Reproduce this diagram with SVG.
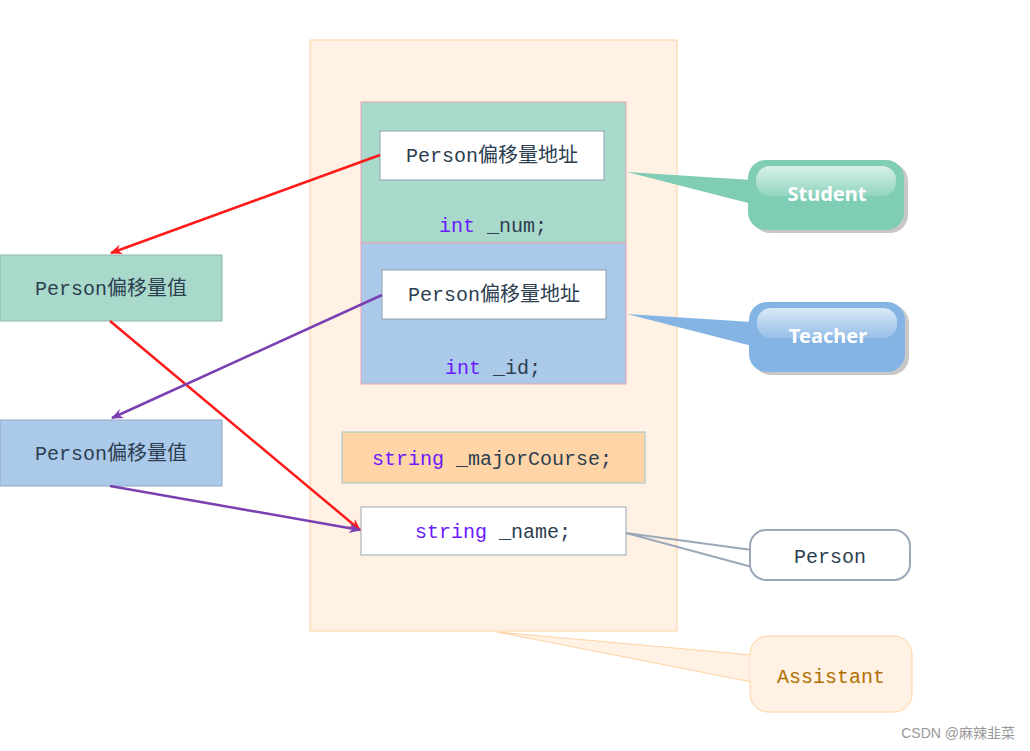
<svg xmlns="http://www.w3.org/2000/svg" width="1030" height="751" viewBox="0 0 1030 751">
<defs>
<marker id="ar" viewBox="0 0 12 10" refX="11" refY="5" markerWidth="12" markerHeight="10" markerUnits="userSpaceOnUse" orient="auto"><path d="M0,0 L12,5 L0,10 L4,5 Z" fill="#ff1a1a"/></marker>
<marker id="ap" viewBox="0 0 12 10" refX="11" refY="5" markerWidth="12" markerHeight="10" markerUnits="userSpaceOnUse" orient="auto"><path d="M0,0 L12,5 L0,10 L4,5 Z" fill="#7a3fb0"/></marker>
<linearGradient id="gl" x1="0" y1="0" x2="0" y2="1"><stop offset="0" stop-color="#fff" stop-opacity="0.7"/><stop offset="1" stop-color="#fff" stop-opacity="0.15"/></linearGradient>
</defs>
<style>
.m{font-family:"Liberation Mono","Noto Sans CJK SC",monospace;font-size:20px;fill:#2c3e50}
.k{fill:#6a1aff}
.c{font-family:"Noto Sans","Liberation Sans",sans-serif;font-size:20px;font-weight:bold;fill:#fff}
</style>
<rect width="1030" height="751" fill="#fff"/>
<g id="assistant-box"><rect x="310" y="40" width="367" height="591" fill="#fff1e4" stroke="#ffd2a0"/></g>
<g id="student"><rect x="361" y="102" width="265" height="141" fill="#a9d9cb" stroke="#e9a0b8"/>
<rect x="380" y="131" width="224" height="49" fill="#fff" stroke="#8fa0b0"/>
<text class="m" x="492" y="162" text-anchor="middle">Person偏移量地址</text>
<text class="m" x="493" y="232" text-anchor="middle"><tspan class="k">int</tspan> _num;</text></g>
<g id="teacher"><rect x="361" y="243" width="265" height="141" fill="#abc9e9" stroke="#e9a0b8"/>
<rect x="382" y="270" width="224" height="49" fill="#fff" stroke="#8fa0b0"/>
<text class="m" x="494" y="301" text-anchor="middle">Person偏移量地址</text>
<text class="m" x="493" y="374" text-anchor="middle"><tspan class="k">int</tspan> _id;</text></g>
<g id="major"><rect x="342" y="432" width="303" height="51" fill="#ffd5a8" stroke="#9ec4c8"/>
<text class="m" x="492" y="465" text-anchor="middle"><tspan class="k">string</tspan> _majorCourse;</text></g>
<g id="name"><rect x="361" y="507" width="265" height="48" fill="#fff" stroke="#9aa8b8"/>
<text class="m" x="493" y="538" text-anchor="middle"><tspan class="k">string</tspan> _name;</text></g>
<g id="val1"><rect x="0" y="255" width="222" height="66" fill="#a9d9cb" stroke="#8fb8b0"/>
<text class="m" x="111" y="295" text-anchor="middle">Person偏移量值</text></g>
<g id="val2"><rect x="0" y="420" width="222" height="66" fill="#abc9e9" stroke="#8fa8c8"/>
<text class="m" x="111" y="460" text-anchor="middle">Person偏移量值</text></g>
<g id="c-student"><polygon points="627,172 752,180 752,204" fill="#7ecdb4"/>
<rect x="752" y="163" width="156" height="70" rx="18" fill="#c8c8c8"/>
<rect x="748" y="160" width="156" height="70" rx="18" fill="#7ecdb4"/>
<rect x="756" y="166" width="140" height="30" rx="14" fill="url(#gl)"/>
<text class="c" x="827" y="201" text-anchor="middle">Student</text></g>
<g id="c-teacher"><polygon points="627,314 752,322 752,346" fill="#84b4e4"/>
<rect x="753" y="305" width="156" height="70" rx="18" fill="#c8c8c8"/>
<rect x="749" y="302" width="156" height="70" rx="18" fill="#84b4e4"/>
<rect x="757" y="308" width="140" height="30" rx="14" fill="url(#gl)"/>
<text class="c" x="828" y="343" text-anchor="middle">Teacher</text></g>
<g id="c-person"><polyline points="626,533 752,550" fill="none" stroke="#9aa8b8" stroke-width="2"/><polyline points="626,533 752,567" fill="none" stroke="#9aa8b8" stroke-width="2"/>
<rect x="750" y="530" width="160" height="50" rx="16" fill="#fff" stroke="#9aa8b8" stroke-width="2"/>
<text class="m" x="830" y="563" text-anchor="middle">Person</text></g>
<g id="c-assistant"><polygon points="497,632 752,655 752,682" fill="#fff1e4" stroke="#ffd2a0"/>
<rect x="750" y="636" width="162" height="76" rx="18" fill="#fff1e4" stroke="#ffd2a0"/>
<line x1="751" y1="656" x2="751" y2="681" stroke="#fff1e4" stroke-width="2"/>
<text class="m" x="831" y="683" text-anchor="middle" style="fill:#b07000">Assistant</text></g>
<g id="connectors" fill="none" stroke-width="2.5">
<line x1="380" y1="155" x2="111" y2="253" stroke="#ff1a1a" marker-end="url(#ar)"/>
<line x1="110" y1="321" x2="360" y2="530" stroke="#ff1a1a" marker-end="url(#ar)"/>
<line x1="382" y1="295" x2="112" y2="418" stroke="#7a3fb0" marker-end="url(#ap)"/>
<line x1="110" y1="486" x2="360" y2="530" stroke="#7a3fb0" marker-end="url(#ap)"/>
</g>
<text x="1015" y="738" text-anchor="end" style="font-family:'Liberation Sans','Noto Sans CJK SC',sans-serif;font-size:14px;fill:#999">CSDN @麻辣韭菜</text>
</svg>
